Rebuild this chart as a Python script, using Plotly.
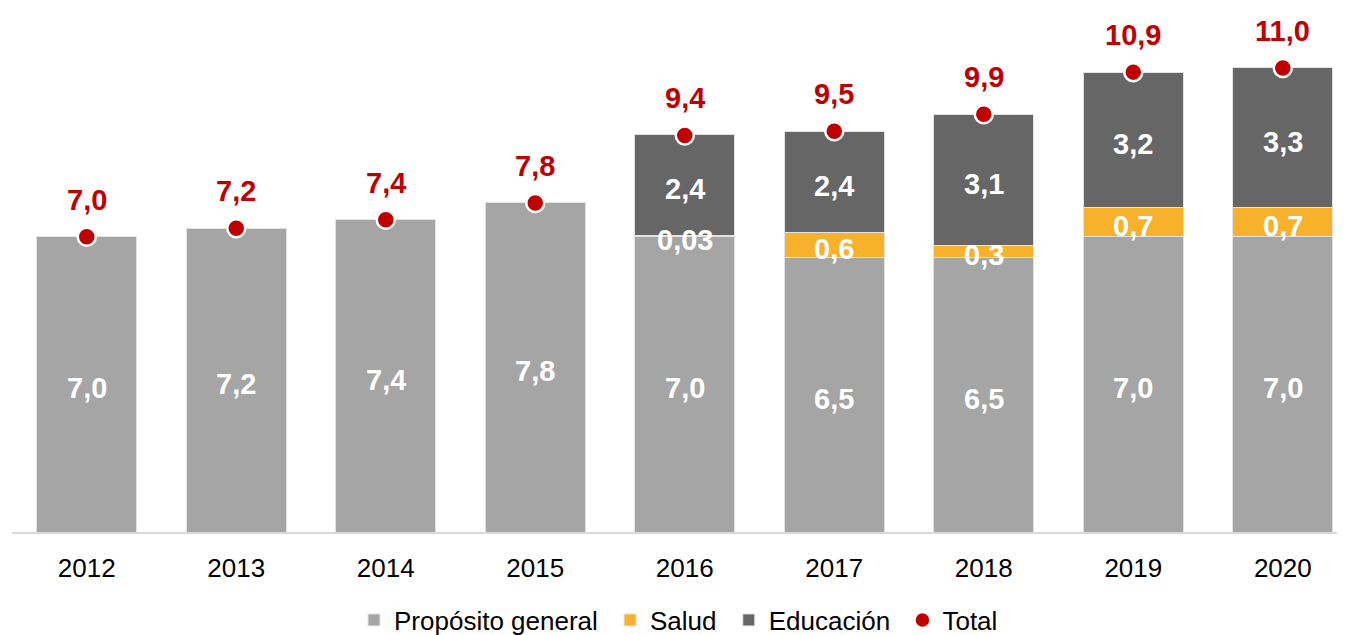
import plotly.graph_objects as go

years = ["2012", "2013", "2014", "2015", "2016", "2017", "2018", "2019", "2020"]
general = [7.0, 7.2, 7.4, 7.8, 7.0, 6.5, 6.5, 7.0, 7.0]
salud = [0, 0, 0, 0, 0.03, 0.6, 0.3, 0.7, 0.7]
educacion = [0, 0, 0, 0, 2.4, 2.4, 3.1, 3.2, 3.3]
total = [7.0, 7.2, 7.4, 7.8, 9.4, 9.5, 9.9, 10.9, 11.0]

general_lbl = ["7,0", "7,2", "7,4", "7,8", "7,0", "6,5", "6,5", "7,0", "7,0"]
salud_lbl = ["", "", "", "", "0,03", "0,6", "0,3", "0,7", "0,7"]
educ_lbl = ["", "", "", "", "2,4", "2,4", "3,1", "3,2", "3,3"]
total_lbl = ["7,0", "7,2", "7,4", "7,8", "9,4", "9,5", "9,9", "10,9", "11,0"]

C_GEN = "#A5A5A5"
C_SAL = "#F7B12B"
C_EDU = "#666666"
C_RED = "#C00000"
FONT = "Liberation Sans, Arial, sans-serif"
PAD = "\u00a0"

fig = go.Figure()
line = dict(color="#E3E3E3", width=1)
fig.add_trace(go.Bar(x=years, y=general, name="Propósito general" + PAD, marker=dict(color=C_GEN, line=line)))
fig.add_trace(go.Bar(x=years, y=salud, name="Salud" + PAD, marker=dict(color=C_SAL, line=line)))
fig.add_trace(go.Bar(x=years, y=educacion, name="Educación" + PAD, marker=dict(color=C_EDU, line=line)))

fig.add_trace(go.Scatter(x=years, y=total, name="Total", mode="markers", cliponaxis=False,
                         marker=dict(color=C_RED, size=18, line=dict(color="white", width=2.5))))

# inside labels (centred on each segment)
gy = [g / 2 for g in general]
sy = [g + s / 2 for g, s in zip(general, salud)]
ey = [g + s + e / 2 for g, s, e in zip(general, salud, educacion)]
for yy, tt in ((gy, general_lbl), (sy, salud_lbl), (ey, educ_lbl)):
    for i, (y, t) in enumerate(zip(yy, tt)):
        if t:
            fig.add_annotation(x=i, y=y, xref="x", yref="y", text="<b>%s</b>" % t,
                               showarrow=False, yshift=-4,
                               font=dict(color="white", size=29, family=FONT))

for i, (t, l) in enumerate(zip(total, total_lbl)):
    fig.add_annotation(x=i, y=t, xref="x", yref="y", text="<b>%s</b>" % l, showarrow=False,
                       yshift=37, font=dict(color=C_RED, size=29, family=FONT))

fig.update_layout(
    barmode="stack",
    bargap=0.331,
    width=1337, height=627,
    margin=dict(l=4, r=0, t=0, b=103, autoexpand=False),
    plot_bgcolor="white", paper_bgcolor="white",
    font=dict(family=FONT, color="black"),
    legend=dict(orientation="h", x=0.5, xanchor="center", y=-0.168, yanchor="middle",
                font=dict(size=26, family=FONT), traceorder="normal"),
    showlegend=True,
)
fig.update_xaxes(type="category", range=[-0.5, 8.416], showline=True, linecolor="#D9D9D9",
                 linewidth=2, ticks="", ticklabelstandoff=12,
                 tickfont=dict(size=26, color="black", family=FONT),
                 showgrid=False, fixedrange=True)
fig.update_yaxes(range=[0, 12.42], visible=False, showgrid=False, zeroline=False)

fig.write_html("out.html")
